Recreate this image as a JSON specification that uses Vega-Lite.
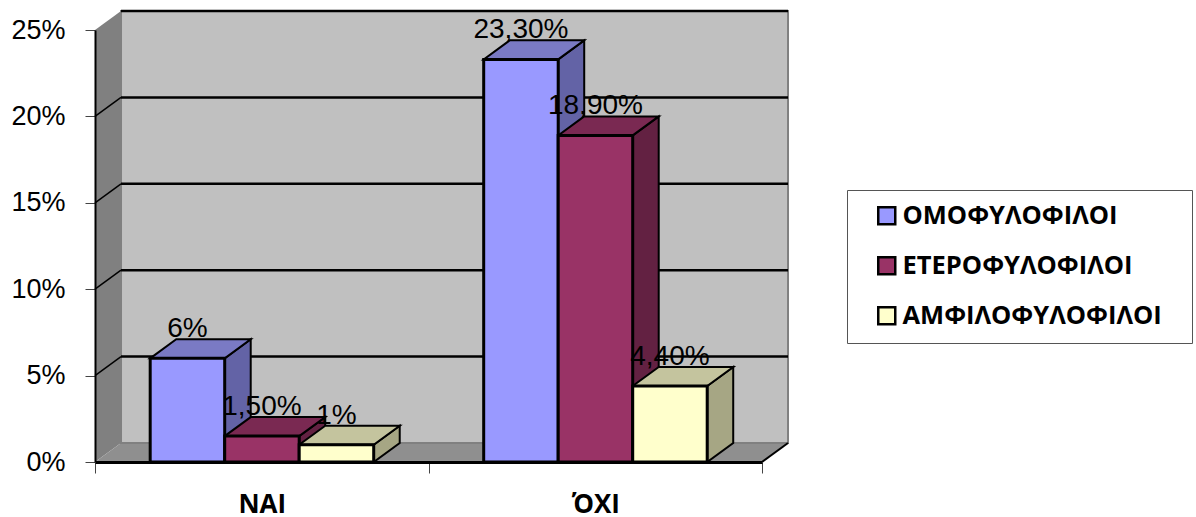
{
  "$schema": "https://vega.github.io/schema/vega-lite/v6.json",
  "width": 667,
  "height": 432,
  "autosize": {"type": "none"},
  "padding": {"left": 95, "top": 30, "right": 434, "bottom": 55},
  "background": "white",
  "config": {"view": {"stroke": null}},
  "datasets": {
    "bars": [
      {"group": "ΝΑΙ", "series": "ΟΜΟΦΥΛΟΦΙΛΟΙ", "value": 6, "label": "6%"},
      {"group": "ΝΑΙ", "series": "ΕΤΕΡΟΦΥΛΟΦΙΛΟΙ", "value": 1.5, "label": "1,50%"},
      {"group": "ΝΑΙ", "series": "ΑΜΦΙΛΟΦΥΛΟΦΙΛΟΙ", "value": 1, "label": "1%"},
      {"group": "ΌΧΙ", "series": "ΟΜΟΦΥΛΟΦΙΛΟΙ", "value": 23.3, "label": "23,30%"},
      {"group": "ΌΧΙ", "series": "ΕΤΕΡΟΦΥΛΟΦΙΛΟΙ", "value": 18.9, "label": "18,90%"},
      {"group": "ΌΧΙ", "series": "ΑΜΦΙΛΟΦΥΛΟΦΙΛΟΙ", "value": 4.4, "label": "4,40%"}
    ],
    "levels": [
      {"level": 0}, {"level": 5}, {"level": 10}, {"level": 15}, {"level": 20}, {"level": 25}
    ],
    "extent": [{"low": 0, "high": 25, "start": 0, "end": 2}]
  },
  "layer": [
    {
      "data": {"name": "extent"},
      "transform": [
        {"calculate": "[0, 1]", "as": "s"},
        {"flatten": ["s"]},
        {"calculate": "datum.start + datum.s * 0.078", "as": "xs"},
        {"calculate": "datum.low + datum.s * 1.1", "as": "lo"},
        {"calculate": "datum.high + datum.s * 1.1", "as": "hi"}
      ],
      "mark": {"type": "area", "orient": "vertical", "fill": "#808080", "stroke": null},
      "encoding": {
        "x": {
          "field": "xs", "type": "quantitative",
          "scale": {"domain": [0, 2], "nice": false},
          "axis": {
            "values": [0, 0.5, 1, 1.5, 2],
            "title": null,
            "grid": false,
            "zindex": 1,
            "domainColor": "black",
            "domainWidth": 3,
            "tickColor": "#444444",
            "tickSize": 11,
            "tickOpacity": {"condition": {"test": "datum.value == 0.5 || datum.value == 1.5", "value": 0}, "value": 1},
            "labelExpr": "datum.value == 0.5 ? 'ΝΑΙ' : datum.value == 1.5 ? 'ΌΧΙ' : ''",
            "labelFont": "Open Sans",
            "labelFontWeight": "bold",
            "labelFontSize": 26,
            "labelColor": "black",
            "labelBaseline": "alphabetic",
            "labelPadding": 39,
            "labelFlush": false,
            "labelOverlap": false
          }
        },
        "y": {
          "field": "hi", "type": "quantitative",
          "scale": {"domain": [0, 25], "nice": false},
          "axis": {
            "values": [0, 5, 10, 15, 20, 25],
            "title": null,
            "grid": false,
            "zindex": 1,
            "domainColor": "black",
            "domainWidth": 2,
            "tickColor": "#444444",
            "tickSize": 10,
            "labelExpr": "datum.value + '%'",
            "labelFont": "Liberation Sans",
            "labelFontSize": 27,
            "labelColor": "black",
            "labelPadding": 20,
            "labelFlush": false
          }
        },
        "y2": {"field": "lo"}
      }
    },
    {
      "data": {"name": "extent"},
      "transform": [
        {"calculate": "[0, 1]", "as": "s"},
        {"flatten": ["s"]},
        {"calculate": "datum.low + datum.s * 1.1", "as": "ys"},
        {"calculate": "datum.start + datum.s * 0.078", "as": "xa"},
        {"calculate": "datum.end + datum.s * 0.078", "as": "xb"}
      ],
      "mark": {"type": "area", "orient": "horizontal", "fill": "#8F8F8F", "stroke": null},
      "encoding": {
        "y": {"field": "ys", "type": "quantitative", "scale": {"domain": [0, 25], "nice": false}},
        "x": {"field": "xa", "type": "quantitative", "scale": {"domain": [0, 2], "nice": false}},
        "x2": {"field": "xb"}
      }
    },
    {
      "data": {"name": "extent"},
      "transform": [
        {"calculate": "datum.start + 0.078", "as": "xa"},
        {"calculate": "datum.end + 0.078", "as": "xb"},
        {"calculate": "datum.low + 1.1", "as": "lo"},
        {"calculate": "datum.high + 1.1", "as": "hi"}
      ],
      "mark": {"type": "rect", "fill": "#C0C0C0", "stroke": "#808080", "strokeWidth": 2},
      "encoding": {
        "x": {"field": "xa", "type": "quantitative", "scale": {"domain": [0, 2], "nice": false}},
        "x2": {"field": "xb"},
        "y": {"field": "hi", "type": "quantitative", "scale": {"domain": [0, 25], "nice": false}},
        "y2": {"field": "lo"}
      }
    },
    {
      "data": {"name": "levels"},
      "transform": [
        {"filter": "datum.level > 0"},
        {"calculate": "datum.level + 1.1", "as": "ys"},
        {"calculate": "0.078", "as": "xa"},
        {"calculate": "2.078", "as": "xb"}
      ],
      "mark": {"type": "rule", "color": "black", "strokeWidth": 2.5},
      "encoding": {
        "x": {"field": "xa", "type": "quantitative", "scale": {"domain": [0, 2], "nice": false}},
        "x2": {"field": "xb"},
        "y": {"field": "ys", "type": "quantitative", "scale": {"domain": [0, 25], "nice": false}}
      }
    },
    {
      "data": {"name": "levels"},
      "transform": [
        {"filter": "datum.level > 0 && datum.level < 25"},
        {"calculate": "datum.level + 1.1", "as": "ys"},
        {"calculate": "0", "as": "xa"},
        {"calculate": "0.078", "as": "xb"}
      ],
      "mark": {"type": "rule", "color": "black", "strokeWidth": 1.5},
      "encoding": {
        "x": {"field": "xa", "type": "quantitative", "scale": {"domain": [0, 2], "nice": false}},
        "x2": {"field": "xb"},
        "y": {"field": "level", "type": "quantitative", "scale": {"domain": [0, 25], "nice": false}},
        "y2": {"field": "ys"}
      }
    },
    {
      "data": {"name": "levels"},
      "transform": [
        {"filter": "datum.level == 0"},
        {"calculate": "1.1", "as": "ys"},
        {"calculate": "2", "as": "xa"},
        {"calculate": "2.078", "as": "xb"}
      ],
      "mark": {"type": "rule", "color": "black", "strokeWidth": 2},
      "encoding": {
        "x": {"field": "xa", "type": "quantitative", "scale": {"domain": [0, 2], "nice": false}},
        "x2": {"field": "xb"},
        "y": {"field": "level", "type": "quantitative", "scale": {"domain": [0, 25], "nice": false}},
        "y2": {"field": "ys"}
      }
    },
    {
      "data": {"name": "bars"},
      "transform": [
        {"calculate": "(datum.group == 'ΝΑΙ' ? 0 : 1) + 0.1655 + 0.2234 * indexof(['ΟΜΟΦΥΛΟΦΙΛΟΙ', 'ΕΤΕΡΟΦΥΛΟΦΙΛΟΙ', 'ΑΜΦΙΛΟΦΥΛΟΦΙΛΟΙ'], datum.series)", "as": "x0"},
        {"calculate": "[0, 1]", "as": "s"},
        {"flatten": ["s"]},
        {"calculate": "datum.x0 + 0.2234 + datum.s * 0.078", "as": "xs"},
        {"calculate": "datum.s * 1.1", "as": "lo"},
        {"calculate": "datum.value + datum.s * 1.1", "as": "hi"},
        {"calculate": "datum.group + datum.series", "as": "bar"}
      ],
      "mark": {"type": "area", "orient": "vertical", "stroke": "black", "strokeWidth": 2},
      "encoding": {
        "x": {"field": "xs", "type": "quantitative", "scale": {"domain": [0, 2], "nice": false}},
        "y": {"field": "hi", "type": "quantitative", "scale": {"domain": [0, 25], "nice": false}},
        "y2": {"field": "lo"},
        "detail": {"field": "bar"},
        "color": {
          "field": "series", "type": "nominal", "legend": null,
          "scale": {
            "domain": ["ΟΜΟΦΥΛΟΦΙΛΟΙ", "ΕΤΕΡΟΦΥΛΟΦΙΛΟΙ", "ΑΜΦΙΛΟΦΥΛΟΦΙΛΟΙ"],
            "range": ["#6363A6", "#632142", "#A6A684"]
          }
        }
      }
    },
    {
      "data": {"name": "bars"},
      "transform": [
        {"calculate": "(datum.group == 'ΝΑΙ' ? 0 : 1) + 0.1655 + 0.2234 * indexof(['ΟΜΟΦΥΛΟΦΙΛΟΙ', 'ΕΤΕΡΟΦΥΛΟΦΙΛΟΙ', 'ΑΜΦΙΛΟΦΥΛΟΦΙΛΟΙ'], datum.series)", "as": "x0"},
        {"calculate": "[0, 1]", "as": "s"},
        {"flatten": ["s"]},
        {"calculate": "datum.x0 + datum.s * 0.078", "as": "xa"},
        {"calculate": "datum.x0 + 0.2234 + datum.s * 0.078", "as": "xb"},
        {"calculate": "datum.value + datum.s * 1.1", "as": "ys"},
        {"calculate": "datum.group + datum.series", "as": "bar"}
      ],
      "mark": {"type": "area", "orient": "horizontal", "stroke": "black", "strokeWidth": 2},
      "encoding": {
        "y": {"field": "ys", "type": "quantitative", "scale": {"domain": [0, 25], "nice": false}},
        "x": {"field": "xa", "type": "quantitative", "scale": {"domain": [0, 2], "nice": false}},
        "x2": {"field": "xb"},
        "detail": {"field": "bar"},
        "color": {
          "field": "series", "type": "nominal", "legend": null,
          "scale": {
            "domain": ["ΟΜΟΦΥΛΟΦΙΛΟΙ", "ΕΤΕΡΟΦΥΛΟΦΙΛΟΙ", "ΑΜΦΙΛΟΦΥΛΟΦΙΛΟΙ"],
            "range": ["#7A7AC4", "#7A2952", "#C4C49E"]
          }
        }
      }
    },
    {
      "data": {"name": "bars"},
      "transform": [
        {"calculate": "(datum.group == 'ΝΑΙ' ? 0 : 1) + 0.1655 + 0.2234 * indexof(['ΟΜΟΦΥΛΟΦΙΛΟΙ', 'ΕΤΕΡΟΦΥΛΟΦΙΛΟΙ', 'ΑΜΦΙΛΟΦΥΛΟΦΙΛΟΙ'], datum.series)", "as": "x0"},
        {"calculate": "datum.x0 + 0.2234", "as": "x1"}
      ],
      "mark": {"type": "rect", "stroke": "black", "strokeWidth": 3},
      "encoding": {
        "x": {"field": "x0", "type": "quantitative", "scale": {"domain": [0, 2], "nice": false}},
        "x2": {"field": "x1"},
        "y": {"field": "value", "type": "quantitative", "scale": {"domain": [0, 25], "nice": false}},
        "y2": {"datum": 0},
        "color": {
          "field": "series", "type": "nominal",
          "scale": {
            "domain": ["ΟΜΟΦΥΛΟΦΙΛΟΙ", "ΕΤΕΡΟΦΥΛΟΦΙΛΟΙ", "ΑΜΦΙΛΟΦΥΛΟΦΙΛΟΙ"],
            "range": ["#9999FF", "#993366", "#FFFFCC"]
          },
          "legend": {
            "orient": "none",
            "legendX": 752,
            "legendY": 160,
            "title": " ",
            "titleOrient": "right",
            "titlePadding": 17,
            "titleFontSize": 1,
            "padding": 13,
            "symbolOffset": 14,
            "symbolType": "square",
            "symbolSize": 289,
            "symbolStrokeColor": "black",
            "symbolStrokeWidth": 2.5,
            "symbolOpacity": 1,
            "labelFont": "Open Sans",
            "labelFontWeight": "bold",
            "labelFontSize": 25.5,
            "labelColor": "black",
            "labelOffset": 3,
            "labelLimit": 400,
            "rowPadding": 22,
            "strokeColor": "#555555",
            "fillColor": "white"
          }
        }
      }
    },
    {
      "data": {"name": "bars"},
      "transform": [
        {"calculate": "(datum.group == 'ΝΑΙ' ? 0 : 1) + 0.1655 + 0.2234 * (indexof(['ΟΜΟΦΥΛΟΦΙΛΟΙ', 'ΕΤΕΡΟΦΥΛΟΦΙΛΟΙ', 'ΑΜΦΙΛΟΦΥΛΟΦΙΛΟΙ'], datum.series) + 0.5)", "as": "xm"}
      ],
      "mark": {"type": "text", "font": "Liberation Sans", "fontSize": 28, "color": "black", "baseline": "alphabetic", "dy": -21},
      "encoding": {
        "x": {"field": "xm", "type": "quantitative", "scale": {"domain": [0, 2], "nice": false}},
        "y": {"field": "value", "type": "quantitative", "scale": {"domain": [0, 25], "nice": false}},
        "text": {"field": "label"}
      }
    }
  ],
  "resolve": {"scale": {"color": "independent"}}
}
